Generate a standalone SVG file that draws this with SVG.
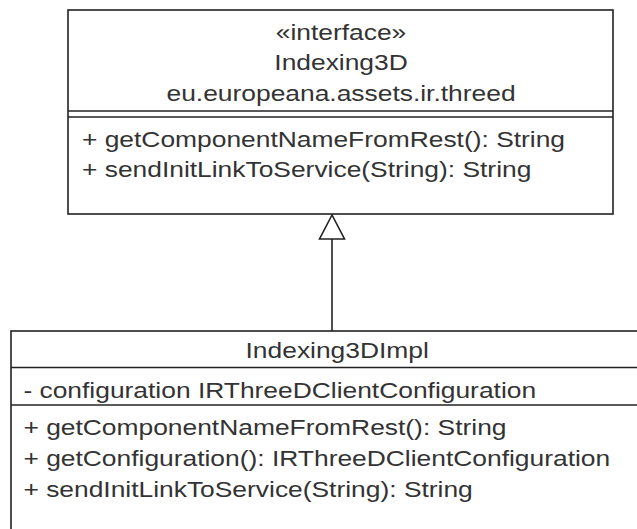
<svg xmlns="http://www.w3.org/2000/svg" width="637" height="529" viewBox="0 0 637 529">
<style>
.box{fill:#fff;stroke:#222;stroke-width:1.6}
.ln{stroke:#222;stroke-width:1.6;fill:none}
text{font-family:"Liberation Sans",Arial,sans-serif;font-size:22px;fill:#333}
.c{text-anchor:middle}
</style>
<rect width="637" height="529" fill="#fff"/>
<g id="connectors">
<line class="ln" x1="332" y1="239" x2="332" y2="331"/>
<polygon points="332,215 319.5,239 344.5,239" fill="#fff" stroke="#222" stroke-width="1.6"/>
</g>
<g id="Indexing3D">
<rect class="box" x="68" y="10" width="545" height="204"/>
<line class="ln" x1="68" y1="111" x2="613" y2="111"/>
<line class="ln" x1="68" y1="117" x2="613" y2="117"/>
<g transform="scale(1.2,1)">
<text class="c" x="284.2" y="40">«interface»</text>
<text class="c" x="284.2" y="70">Indexing3D</text>
<text class="c" x="284.2" y="101">eu.europeana.assets.ir.threed</text>
<text x="68.3" y="147">+ getComponentNameFromRest(): String</text>
<text x="68.3" y="177">+ sendInitLinkToService(String): String</text>
</g>
</g>
<g id="Indexing3DImpl">
<rect class="box" x="11" y="331" width="640" height="220"/>
<line class="ln" x1="11" y1="367.5" x2="637" y2="367.5"/>
<line class="ln" x1="11" y1="405" x2="637" y2="405"/>
<g transform="scale(1.2,1)">
<text class="c" x="281" y="358">Indexing3DImpl</text>
<text x="19.5" y="398">- configuration IRThreeDClientConfiguration</text>
<text x="19.5" y="435">+ getComponentNameFromRest(): String</text>
<text x="19.5" y="466">+ getConfiguration(): IRThreeDClientConfiguration</text>
<text x="19.5" y="497">+ sendInitLinkToService(String): String</text>
</g>
</g>
</svg>
